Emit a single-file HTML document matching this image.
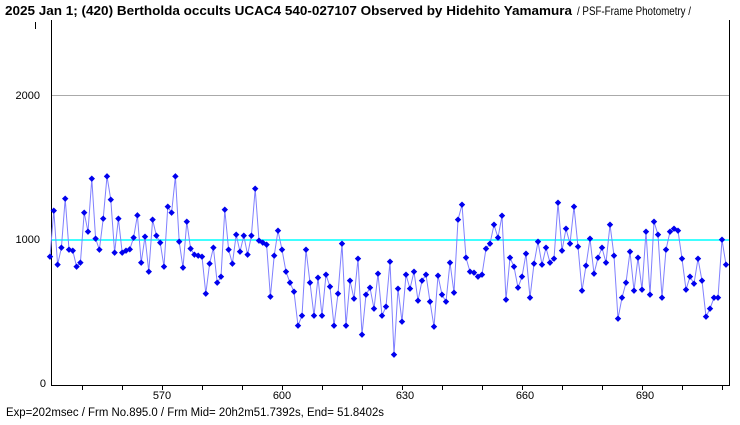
<!DOCTYPE html>
<html><head><meta charset="utf-8"><style>
body{margin:0;background:#fff;width:740px;height:425px;overflow:hidden}
svg{display:block}
text{font-family:"Liberation Sans","DejaVu Sans",sans-serif}
</style></head><body>
<svg id="s" width="740" height="425" viewBox="0 0 740 425">
<rect width="740" height="425" fill="#fff"/>
<text x="5" y="15" font-size="12.5" font-weight="bold" textLength="567" lengthAdjust="spacingAndGlyphs">2025 Jan 1; (420) Bertholda occults UCAC4 540-027107 Observed by Hidehito Yamamura</text>
<text x="577" y="15" font-size="12" textLength="114" lengthAdjust="spacingAndGlyphs">/ PSF-Frame Photometry /</text>
<line x1="35.5" y1="22" x2="35.5" y2="29" stroke="#000"/>
<line x1="51" y1="95.5" x2="729" y2="95.5" stroke="#aaa"/>
<line x1="51" y1="240" x2="729" y2="240" stroke="#00ffff" stroke-width="1.5"/>
<line x1="51.5" y1="20" x2="51.5" y2="385" stroke="#000"/>
<line x1="729.5" y1="20" x2="729.5" y2="385" stroke="#000"/>
<line x1="51" y1="385.5" x2="730" y2="385.5" stroke="#000"/>
<text x="40" y="99" font-size="11" text-anchor="end">2000</text>
<text x="40" y="243" font-size="11" text-anchor="end">1000</text>
<text x="46" y="387" font-size="11" text-anchor="end">0</text>
<text x="162" y="399" font-size="11" text-anchor="middle">570</text>
<text x="282" y="399" font-size="11" text-anchor="middle">600</text>
<text x="405" y="399" font-size="11" text-anchor="middle">630</text>
<text x="525" y="399" font-size="11" text-anchor="middle">660</text>
<text x="645" y="399" font-size="11" text-anchor="middle">690</text>
<text x="6" y="416" font-size="11.5" textLength="378" lengthAdjust="spacingAndGlyphs">Exp=202msec / Frm No.895.0 / Frm Mid= 20h2m51.7392s,  End= 51.8402s</text>
<g id="ticks" stroke="#000"></g>
<polyline id="pl" fill="none" stroke="#8080ff" stroke-width="1"/>
<g id="pts" fill="#0000ee"></g>
</svg>
<script>
var NS="http://www.w3.org/2000/svg";
var P=[];
var z1=[290,152,314,263,116,269,272,320,308,158,215,56,236,269,176,49,119,278,176,278,272,268,233,166,308,230,335,179,227,248,320,140,158,49,245,323,185,266,284,287,290,401,311,263,368,350,149,269,311,224,275,227,284,227,86,242,248,254,410,287,212];
for(var i=0;i<z1.length;i++)P.push([50+228*i/(z1.length-1),160+z1[i]/3]);
var z2=[[6,269],[18,335],[30,368],[42,395],[54,497],[66,467],[78,269],[90,368],[102,467],[114,353],[126,467],[138,344],[150,380],[162,497],[174,401],[186,251],[198,497],[210,362],[222,416],[234,296],[246,524],[258,404],[270,383],[282,446],[294,341],[306,467],[318,440],[330,305],[342,584],[354,386],[366,485],[378,344],[390,386],[402,335],[414,422],[426,362],[438,344],[450,425],[462,500],[474,347],[486,404],[498,425],[510,308],[522,398],[534,179],[546,134],[558,293],[570,335],[582,338],[594,350],[606,344],[618,266],[630,251],[642,194],[654,233],[666,167]];
z2.forEach(function(p){P.push([280+p[0]/3,160+p[1]/3]);});
var z3=[[18,419],[30,293],[42,320],[54,383],[66,350],[78,281],[90,413],[102,311],[114,245],[126,314],[138,263],[150,308],[162,296],[174,128],[186,272],[198,206],[210,251],[222,140],[234,260],[246,392],[258,317],[270,236],[282,341],[294,293],[306,263],[318,308],[330,194],[342,287],[354,476],[366,413],[378,368],[390,275],[402,392],[414,293],[426,389],[438,215],[450,404],[462,185],[474,224],[486,413],[498,269],[510,215],[522,206],[534,212],[546,296],[558,389],[570,350],[582,371],[594,296],[606,362],[618,470],[630,446],[642,413],[654,413],[666,239],[678,314]];
z3.forEach(function(p){P.push([500+p[0]/3,160+p[1]/3]);});
document.getElementById("pl").setAttribute("points",P.map(function(p){return p[0].toFixed(1)+","+p[1].toFixed(1)}).join(" "));
var g=document.getElementById("pts");
P.forEach(function(p){var e=document.createElementNS(NS,"polygon");var x=p[0],y=p[1];
e.setAttribute("points",(x-3.2)+","+y+" "+x+","+(y-3.2)+" "+(x+3.2)+","+y+" "+x+","+(y+3.2));g.appendChild(e);});
var t=document.getElementById("ticks");
for(var x=82;x<=722;x+=40){var l=document.createElementNS(NS,"line");l.setAttribute("x1",x+.5);l.setAttribute("x2",x+.5);l.setAttribute("y1",385);l.setAttribute("y2",390);t.appendChild(l);}
</script>
</body></html>
